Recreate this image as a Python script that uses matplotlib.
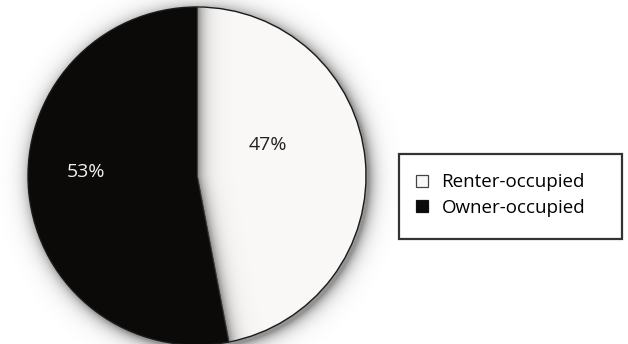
import numpy as np
import matplotlib.pyplot as plt
from matplotlib.patches import Rectangle, Patch

plt.rcParams['font.family'] = ['Open Sans', 'DejaVu Sans']

labels = ['Renter-occupied', 'Owner-occupied']
shares = [47, 53]
colors = ['#faf8f6', '#0c0a09']

W, H = 628, 344
cx, cy, r = 197, 168, 169

fig = plt.figure(figsize=(W / 100, H / 100), dpi=100)
ax = fig.add_axes([0, 0, 1, 1])

# soft drop shadow around the disc
yy, xx = np.mgrid[0:H, 0:W] + 0.5
dist = np.hypot(xx - cx - 3, yy - cy + 3) - r
halo = np.exp(-np.clip(dist, 0, None) / 7.0) * 0.6
img = np.zeros((H, W, 4))
img[..., :3] = 0.3
img[..., 3] = np.where(dist > -4, halo, 0)
ax.imshow(img, extent=(0, W, 0, H), origin='lower', zorder=0, interpolation='bilinear')

wedges, texts = ax.pie(shares, colors=colors, startangle=90, counterclock=False,
                       center=(cx, cy), radius=r, frame=True,
                       wedgeprops=dict(edgecolor='#1a1a1a', linewidth=1.0))
for w in wedges:
    w.set_zorder(2)

# gradient shading along the cut edges of the light wedge
light = wedges[0]
def seg_dist(px, py, ang):
    ux, uy = np.cos(np.radians(ang)), np.sin(np.radians(ang))
    t = np.clip((px - cx) * ux + (py - cy) * uy, 0, r)
    return np.hypot(px - cx - t * ux, py - cy - t * uy)
d = np.minimum(seg_dist(xx, yy, light.theta1), seg_dist(xx, yy, light.theta2))
shade = np.zeros((H, W, 4))
shade[..., :3] = 0.3
shade[..., 3] = np.exp(-d / 7.0) * 0.7
im = ax.imshow(shade, extent=(0, W, 0, H), origin='lower', zorder=3, interpolation='bilinear')
im.set_clip_path(light)

ax.text(268, H - 145, '47%', ha='center', va='center', fontsize=14, color='#222222', zorder=5)
ax.text(86, H - 172, '53%', ha='center', va='center', fontsize=14, color='#f0f0f0', zorder=5)

ax.set_xlim(0, W)
ax.set_ylim(0, H)
ax.set_aspect('equal')
ax.axis('off')

# legend box
ax.add_patch(Rectangle((399, H - 239), 223, 85, facecolor='white', edgecolor='#333333',
                       linewidth=1.6, zorder=4))
handles = [Patch(facecolor=colors[0], edgecolor='#444444', linewidth=0.9),
           Patch(facecolor=colors[1], edgecolor='#111111', linewidth=0.9)]
ax.legend(handles, labels, loc='center left', bbox_to_anchor=(399 / W, 1 - 195 / H),
          bbox_transform=fig.transFigure, frameon=False, fontsize=13.5,
          handlelength=0.62, handleheight=0.62, handletextpad=0.75, labelspacing=0.4)

fig.savefig('out.png', dpi=100)
